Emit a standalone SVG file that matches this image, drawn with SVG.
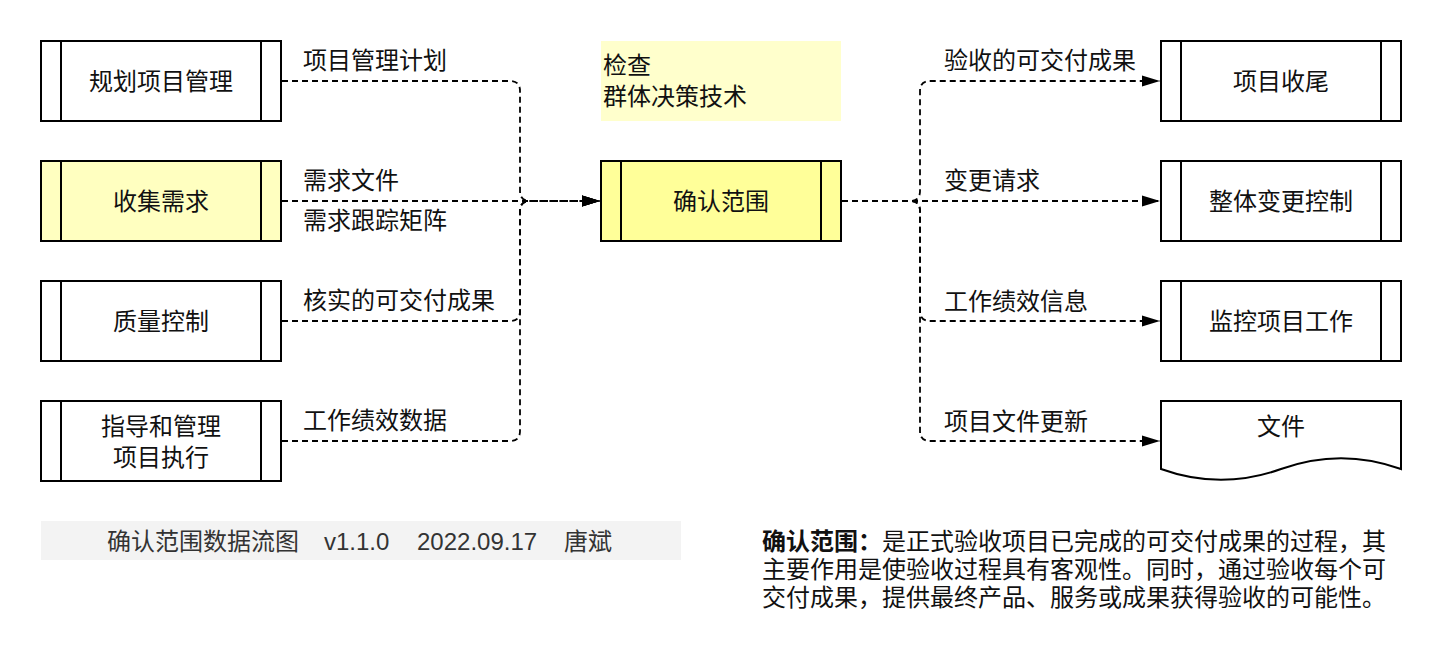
<svg xmlns="http://www.w3.org/2000/svg" width="1442" height="662" viewBox="0 0 1442 662">
<style>
  text { font-family: "Liberation Sans", "Noto Sans CJK SC", sans-serif; font-size: 24px; fill: #111; }
  .box { fill: #fff; stroke: #000; stroke-width: 2; }
  .div { stroke: #000; stroke-width: 2; fill: none; }
  .yl { fill: #FFFFC0; }
  .yc { fill: #FFFF99; }
  .c { text-anchor: middle; }
  .edge { fill: none; stroke: #000; stroke-width: 1.8; stroke-dasharray: 6 4; }
  .foot { fill: #333; }
</style>
<defs>
  <marker id="arr" markerUnits="userSpaceOnUse" markerWidth="20" markerHeight="14" refX="18" refY="7" orient="auto">
    <path d="M0,1.5 L18,7 L0,12.5 Z" fill="#000"/>
  </marker>
</defs>
<rect width="1442" height="662" fill="#fff"/>

<g id="connectors">
  <path class="edge" d="M282,81 H510 Q520,81 520,91 V191 Q520,201 530,201 H600" marker-end="url(#arr)"/>
  <path class="edge" d="M282,201 H600" marker-end="url(#arr)"/>
  <path class="edge" d="M282,321 H510 Q520,321 520,311 V211 Q520,201 530,201 H600" marker-end="url(#arr)"/>
  <path class="edge" d="M282,441 H510 Q520,441 520,431 V211 Q520,201 530,201 H600" marker-end="url(#arr)"/>
  <path class="edge" d="M842,201 H910 Q920,201 920,191 V91 Q920,81 930,81 H1160" marker-end="url(#arr)"/>
  <path class="edge" d="M842,201 H1160" marker-end="url(#arr)"/>
  <path class="edge" d="M842,201 H910 Q920,201 920,211 V311 Q920,321 930,321 H1160" marker-end="url(#arr)"/>
  <path class="edge" d="M842,201 H910 Q920,201 920,211 V431 Q920,441 930,441 H1160" marker-end="url(#arr)"/>
  <text x="303" y="69">项目管理计划</text>
  <text x="303" y="189">需求文件</text>
  <text x="303" y="229">需求跟踪矩阵</text>
  <text x="303" y="309">核实的可交付成果</text>
  <text x="303" y="429">工作绩效数据</text>
  <text x="944" y="69">验收的可交付成果</text>
  <text x="944" y="189">变更请求</text>
  <text x="944" y="310">工作绩效信息</text>
  <text x="944" y="430">项目文件更新</text>
</g>

<g id="n-plan">
  <rect class="box" x="41" y="41" width="240" height="80"/>
  <path class="div" d="M61,41 V121 M261,41 V121"/>
  <text class="c" x="161" y="90">规划项目管理</text>
</g>
<g id="n-collect">
  <rect class="box yl" x="41" y="161" width="240" height="80"/>
  <path class="div" d="M61,161 V241 M261,161 V241"/>
  <text class="c" x="161" y="210">收集需求</text>
</g>
<g id="n-quality">
  <rect class="box" x="41" y="281" width="240" height="80"/>
  <path class="div" d="M61,281 V361 M261,281 V361"/>
  <text class="c" x="161" y="330">质量控制</text>
</g>
<g id="n-direct">
  <rect class="box" x="41" y="401" width="240" height="80"/>
  <path class="div" d="M61,401 V481 M261,401 V481"/>
  <text class="c" x="161" y="435">指导和管理</text>
  <text class="c" x="161" y="466">项目执行</text>
</g>

<g id="n-note">
  <rect x="601" y="41" width="240" height="80" fill="#FFFFCC"/>
  <text x="603" y="74">检查</text>
  <text x="603" y="105">群体决策技术</text>
</g>
<g id="n-validate">
  <rect class="box yc" x="601" y="161" width="240" height="80"/>
  <path class="div" d="M621,161 V241 M821,161 V241"/>
  <text class="c" x="721" y="210">确认范围</text>
</g>

<g id="n-close">
  <rect class="box" x="1161" y="41" width="240" height="80"/>
  <path class="div" d="M1181,41 V121 M1381,41 V121"/>
  <text class="c" x="1281" y="90">项目收尾</text>
</g>
<g id="n-change">
  <rect class="box" x="1161" y="161" width="240" height="80"/>
  <path class="div" d="M1181,161 V241 M1381,161 V241"/>
  <text class="c" x="1281" y="210">整体变更控制</text>
</g>
<g id="n-monitor">
  <rect class="box" x="1161" y="281" width="240" height="80"/>
  <path class="div" d="M1181,281 V361 M1381,281 V361"/>
  <text class="c" x="1281" y="330">监控项目工作</text>
</g>
<g id="n-docs">
  <path class="box" d="M1161,401 H1401 V469 Q1341,447.4 1281,469 Q1221,490.6 1161,469 Z"/>
  <text class="c" x="1281" y="435">文件</text>
</g>

<g id="footer">
  <rect x="41" y="521" width="640" height="39" fill="#F3F3F3"/>
  <text class="foot" x="107" y="550">确认范围数据流图</text>
  <text class="foot" x="324" y="550">v1.1.0</text>
  <text class="foot" x="417" y="550">2022.09.17</text>
  <text class="foot" x="564" y="550">唐斌</text>
</g>

<g id="description">
  <text x="762" y="550"><tspan font-weight="bold">确认范围：</tspan>是正式验收项目已完成的可交付成果的过程，其</text>
  <text x="762" y="578">主要作用是使验收过程具有客观性。同时，通过验收每个可</text>
  <text x="762" y="606">交付成果，提供最终产品、服务或成果获得验收的可能性。</text>
</g>
</svg>
